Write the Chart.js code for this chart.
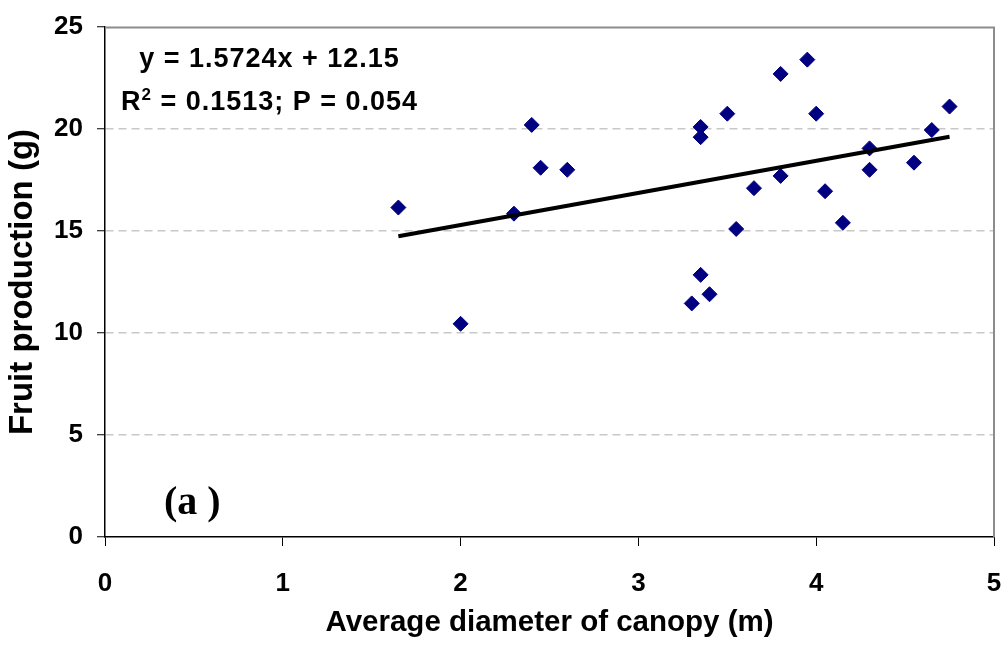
<!DOCTYPE html>
<html>
<head>
<meta charset="utf-8">
<script src="https://cdn.jsdelivr.net/npm/chart.js@4.4.1/dist/chart.umd.min.js"></script>
<style>
  html, body { margin: 0; padding: 0; background: #ffffff; }
  #wrap { width: 1005px; height: 652px; position: relative; }
</style>
</head>
<body>
<div id="wrap"><canvas id="chart" width="1005" height="652"></canvas></div>
<script>
// Average canopy diameter (m) and fruit production (g) per tree
const diameter = [1.65, 2.0, 2.3, 2.4, 2.45, 2.6, 3.3, 3.35, 3.35, 3.35, 3.4, 3.5, 3.55,
                  3.65, 3.8, 3.8, 3.95, 4.0, 4.05, 4.15, 4.3, 4.3, 4.55, 4.65, 4.75];
const production = [16.15, 10.45, 15.85, 20.2, 18.1, 18.0, 11.45, 12.85, 19.6, 20.1, 11.9, 20.75, 15.1,
                    17.1, 22.7, 17.7, 23.4, 20.75, 16.95, 15.4, 19.05, 18.0, 18.35, 19.95, 21.1];

// Fitted regression
const slope = 1.5724;
const intercept = 12.15;
const equationText = 'y = 1.5724x + 12.15';
const statsText = ' = 0.1513; P = 0.054';
const panelLabel = '(a )';

const xTicks = [0, 1, 2, 3, 4, 5];
const yTicks = [0, 5, 10, 15, 20, 25];

const scatterPoints = diameter.map((d, i) => ({ x: d, y: production[i] }));
const xMin = Math.min(...diameter);
const xMax = Math.max(...diameter);
const fitLine = [xMin, xMax].map(x => ({ x: x, y: slope * x + intercept }));

const SANS = '"Liberation Sans", Arial, sans-serif';
const SERIF = '"Liberation Serif", "Times New Roman", serif';

// Grey frame on the top and right of the plot area
const framePlugin = {
  id: 'plotFrame',
  beforeDatasetsDraw(chart) {
    const { ctx, chartArea: a } = chart;
    ctx.save();
    ctx.strokeStyle = '#8c8c8c';
    ctx.lineWidth = 2;
    ctx.beginPath();
    ctx.moveTo(a.left, a.top + 0.5);
    ctx.lineTo(a.right, a.top + 0.5);
    ctx.lineTo(a.right, a.bottom);
    ctx.stroke();
    ctx.restore();
  }
};

// Regression equation, statistics and panel letter
const notesPlugin = {
  id: 'notes',
  afterDatasetsDraw(chart) {
    const { ctx } = chart;
    ctx.save();
    ctx.fillStyle = '#000000';
    ctx.textBaseline = 'alphabetic';
    ctx.letterSpacing = '1px';

    const cx = 269.5;
    const bigFont = 'bold 27px ' + SANS;
    const smallFont = 'bold 17px ' + SANS;
    ctx.font = bigFont;
    ctx.textAlign = 'left';
    const wEq = ctx.measureText(equationText).width;
    ctx.fillText(equationText, cx - wEq / 2, 67);

    // R² line with a raised, smaller "2"
    const wR = ctx.measureText('R').width;
    const wRest = ctx.measureText(statsText).width;
    ctx.font = smallFont;
    const w2 = ctx.measureText('2').width;
    let x = cx - (wR + w2 + wRest) / 2;
    ctx.font = bigFont;
    ctx.fillText('R', x, 110);
    x += wR;
    ctx.font = smallFont;
    ctx.fillText('2', x, 100);
    x += w2;
    ctx.font = bigFont;
    ctx.fillText(statsText, x, 110);

    ctx.letterSpacing = '0px';
    ctx.font = 'bold 40px ' + SERIF;
    ctx.fillText(panelLabel, 164, 514);
    ctx.restore();
  }
};

new Chart(document.getElementById('chart'), {
  type: 'scatter',
  data: {
    datasets: [
      {
        label: 'Fruit production',
        data: scatterPoints,
        pointStyle: 'rectRot',
        pointRadius: 7.5,
        pointHoverRadius: 7.5,
        backgroundColor: '#000080',
        borderColor: '#000080',
        borderWidth: 1,
        order: 2
      },
      {
        type: 'line',
        label: 'Linear fit',
        data: fitLine,
        borderColor: '#000000',
        borderWidth: 4,
        pointRadius: 0,
        fill: false,
        order: 1
      }
    ]
  },
  options: {
    responsive: false,
    animation: false,
    devicePixelRatio: 1,
    layout: { padding: { left: 0, right: 11, top: 27, bottom: 0 } },
    plugins: {
      legend: { display: false },
      tooltip: { enabled: false }
    },
    scales: {
      x: {
        type: 'linear',
        min: 0,
        max: 5,
        afterBuildTicks(scale) { scale.ticks = xTicks.map(v => ({ value: v })); },
        afterFit(scale) {
          scale.height = 115;
          scale.paddingLeft = 0;
          scale.paddingRight = 0;
        },
        grid: {
          drawOnChartArea: false,
          drawTicks: true,
          tickLength: 9,
          tickColor: '#000000',
          tickWidth: 1
        },
        border: { color: '#000000', width: 1.5 },
        ticks: {
          color: '#000000',
          font: { family: SANS, size: 26, weight: 'bold' },
          padding: 22,
          maxRotation: 0
        },
        title: {
          display: true,
          text: 'Average diameter of canopy (m)',
          color: '#000000',
          font: { family: SANS, size: 29.5, weight: 'bold' },
          padding: { top: 0, bottom: 11 }
        }
      },
      y: {
        type: 'linear',
        min: 0,
        max: 25,
        afterBuildTicks(scale) { scale.ticks = yTicks.map(v => ({ value: v })); },
        afterFit(scale) {
          scale.width = 105;
          scale.paddingTop = 0;
          scale.paddingBottom = 0;
        },
        grid: {
          color: ctx => (ctx.tick && (ctx.tick.value === 0 || ctx.tick.value === 25)) ? 'rgba(0,0,0,0)' : '#c8c8c8',
          lineWidth: 1.5,
          drawTicks: true,
          tickLength: 8,
          tickColor: '#000000',
          tickWidth: 1
        },
        border: { color: '#000000', width: 1.5, dash: [8, 5] },
        ticks: {
          color: '#000000',
          font: { family: SANS, size: 26, weight: 'bold' },
          padding: 14
        },
        title: {
          display: true,
          text: 'Fruit production (g)',
          color: '#000000',
          font: { family: SANS, size: 33, weight: 'bold' },
          padding: { top: 3, bottom: 0 }
        }
      }
    }
  },
  plugins: [framePlugin, notesPlugin]
});
</script>
</body>
</html>
